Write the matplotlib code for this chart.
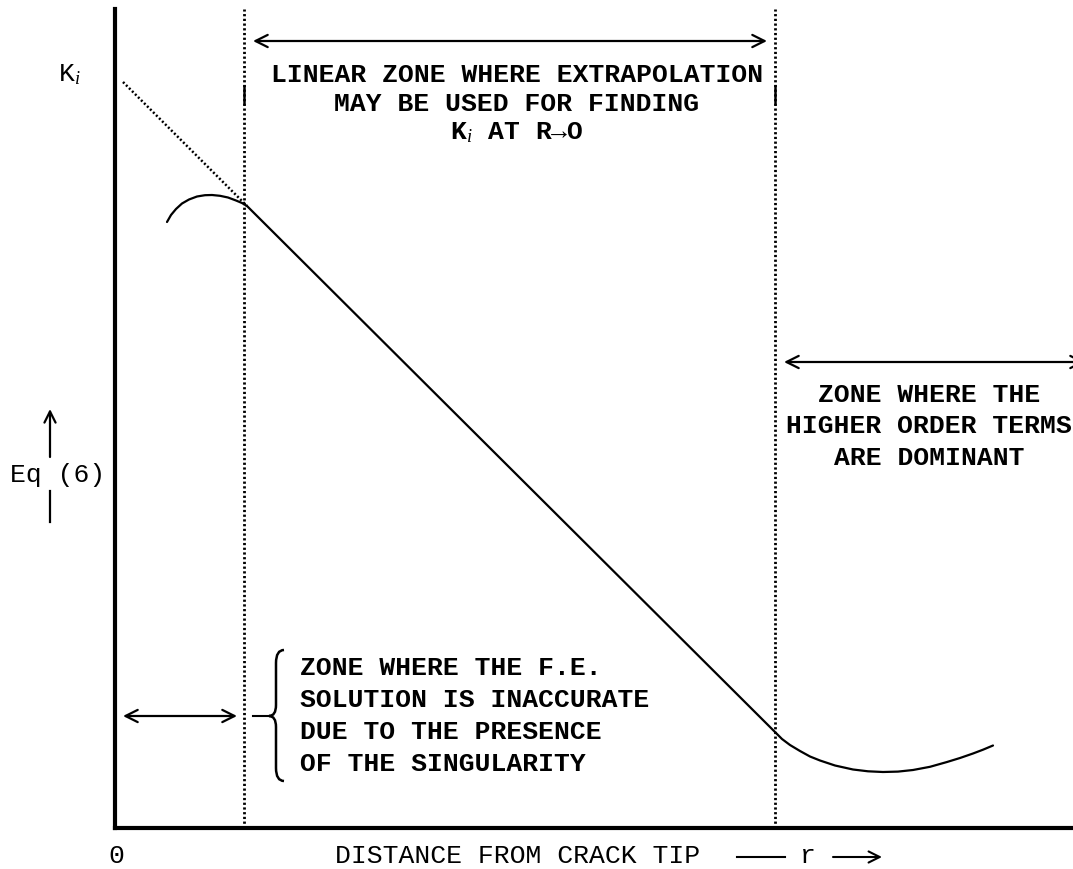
import numpy as np
import matplotlib.pyplot as plt
from matplotlib.path import Path
from matplotlib.patches import PathPatch

plt.rcParams['mathtext.fontset'] = 'custom'
plt.rcParams['mathtext.rm'] = 'Liberation Serif'
plt.rcParams['mathtext.it'] = 'Liberation Serif:italic'
plt.rcParams['figure.dpi'] = 100
plt.rcParams['savefig.dpi'] = 100

# Eq (6) against distance r from the crack tip (schematic)
hump_r = [52, 56, 61, 67, 74, 82, 90, 97, 105, 113, 121, 127, 132]
hump_y = [606, 613, 619, 624.5, 628.5, 631.5, 632.8, 633, 632.2, 630.5, 627.5,
          625, 622]
linear_r = [132, 660]
linear_y = [622, 96]
valley_r = [660, 667, 675, 685, 695, 705, 720, 738, 753, 768, 783, 798, 815,
            832, 845, 858, 868, 878]
valley_y = [96, 89, 83, 77, 71.5, 67.5, 62.5, 58.5, 56.7, 56, 56.4, 58, 61.2,
            66, 70, 74.5, 78.3, 82.5]
extrap_r = [8, 132]
extrap_y = [746, 622]
zone_r = [129, 660]   # limits of the linear zone

top_lines = ['LINEAR ZONE WHERE EXTRAPOLATION', 'MAY BE USED FOR FINDING',
             r'K$_{\mathit{i}}$ AT R→O']
right_lines = ['ZONE WHERE THE', 'HIGHER ORDER TERMS', 'ARE DOMINANT']
left_lines = ['ZONE WHERE THE F.E.', 'SOLUTION IS INACCURATE',
              'DUE TO THE PRESENCE', 'OF THE SINGULARITY']

W, H = 1073, 870
X0, Y0 = 115, 829


def P(px, py):
    # pixel position in the picture -> axes data position
    return px - X0, Y0 - py


mono = ['Liberation Mono', 'DejaVu Sans Mono']
bold = dict(family=mono, weight='bold', fontsize=19)
plain = dict(family=mono, fontsize=19)
dots = (0, (0.8, 0.9))

fig = plt.figure(figsize=(W / 100, H / 100))
ax = fig.add_axes([X0 / W, (H - Y0) / H, (W - X0) / W, (Y0 - 10) / H])
ax.set_xlim(0, W - X0)
ax.set_ylim(0, Y0 - 10)
for s in ['top', 'right']:
    ax.spines[s].set_visible(False)
for s in ['left', 'bottom']:
    ax.spines[s].set_linewidth(3)
    ax.spines[s].set_capstyle('projecting')
ax.set_xticks([])
ax.set_yticks([])

# curve
r = hump_r + linear_r[1:] + valley_r[1:]
y = hump_y + linear_y[1:] + valley_y[1:]
ax.plot(r, y, color='black', lw=1.6, solid_capstyle='round',
        solid_joinstyle='round')
ax.plot(extrap_r, extrap_y, color='black', lw=1.8, linestyle=dots)

# zone limits
for zr in zone_r:
    ax.plot([zr, zr], [0, Y0 - 10], color='black', lw=2, linestyle=dots,
            clip_on=False)
    ax.plot([zr, zr], [P(0, 104)[1], P(0, 87)[1]], color='black', lw=1.8)

arrow = dict(arrowstyle='<->', lw=1.6, mutation_scale=22, shrinkA=0, shrinkB=0,
             color='black')
ax.annotate('', xy=P(767, 42), xytext=P(253, 42), arrowprops=arrow,
            annotation_clip=False)
ax.annotate('', xy=P(1085, 363), xytext=P(784, 363), arrowprops=arrow,
            annotation_clip=False)
ax.annotate('', xy=P(237, 717), xytext=P(123, 717), arrowprops=arrow,
            annotation_clip=False)

# texts of the zones
for i, t in enumerate(top_lines):
    ax.text(*P(517, 75 + 29 * i), t, ha='center', va='center', **bold)
for i, t in enumerate(right_lines):
    ax.text(*P(929, 395 + 31.5 * i), t, ha='center', va='center',
            clip_on=False, **bold)
for i, t in enumerate(left_lines):
    ax.text(*P(300, 668 + 32 * i), t, ha='left', va='center', **bold)

# brace for the inaccurate zone
ax.plot(*zip(P(253, 717), P(271, 717)), color='black', lw=1.5)
brace = [P(284, 651), P(276, 651), P(276, 664), P(276, 706), P(276, 717),
         P(269, 717), P(276, 717), P(276, 728), P(276, 769), P(276, 782),
         P(284, 782)]
codes = [Path.MOVETO, Path.CURVE3, Path.CURVE3, Path.LINETO, Path.CURVE3,
         Path.CURVE3, Path.CURVE3, Path.CURVE3, Path.LINETO, Path.CURVE3,
         Path.CURVE3]
ax.add_patch(PathPatch(Path(brace, codes), facecolor='none', edgecolor='black',
                       lw=1.8, clip_on=False))

# axis labels
ax.text(*P(58, 75), r'K$_{\mathit{i}}$', ha='left', va='center', **plain)
ax.text(*P(10, 475), 'Eq (6)', ha='left', va='center', **plain)
ax.annotate('', xy=P(50, 410), xytext=P(50, 458),
            arrowprops=dict(arrowstyle='->', lw=1.6, mutation_scale=20,
                            shrinkA=0, shrinkB=0, color='black'),
            annotation_clip=False)
ax.plot(*zip(P(50, 492), P(50, 523)), color='black', lw=1.6, clip_on=False)

ax.text(*P(116, 856), '0', ha='center', va='center', **plain)
ax.text(*P(335, 856), 'DISTANCE FROM CRACK TIP', ha='left', va='center', **plain)
ax.plot(*zip(P(737, 858), P(785, 858)), color='black', lw=1.5, clip_on=False)
ax.text(*P(808, 856), 'r', ha='center', va='center', **plain)
ax.annotate('', xy=P(882, 858), xytext=P(833, 858),
            arrowprops=dict(arrowstyle='->', lw=1.5, mutation_scale=20,
                            shrinkA=0, shrinkB=0, color='black'),
            annotation_clip=False)

fig.savefig('out.png')
